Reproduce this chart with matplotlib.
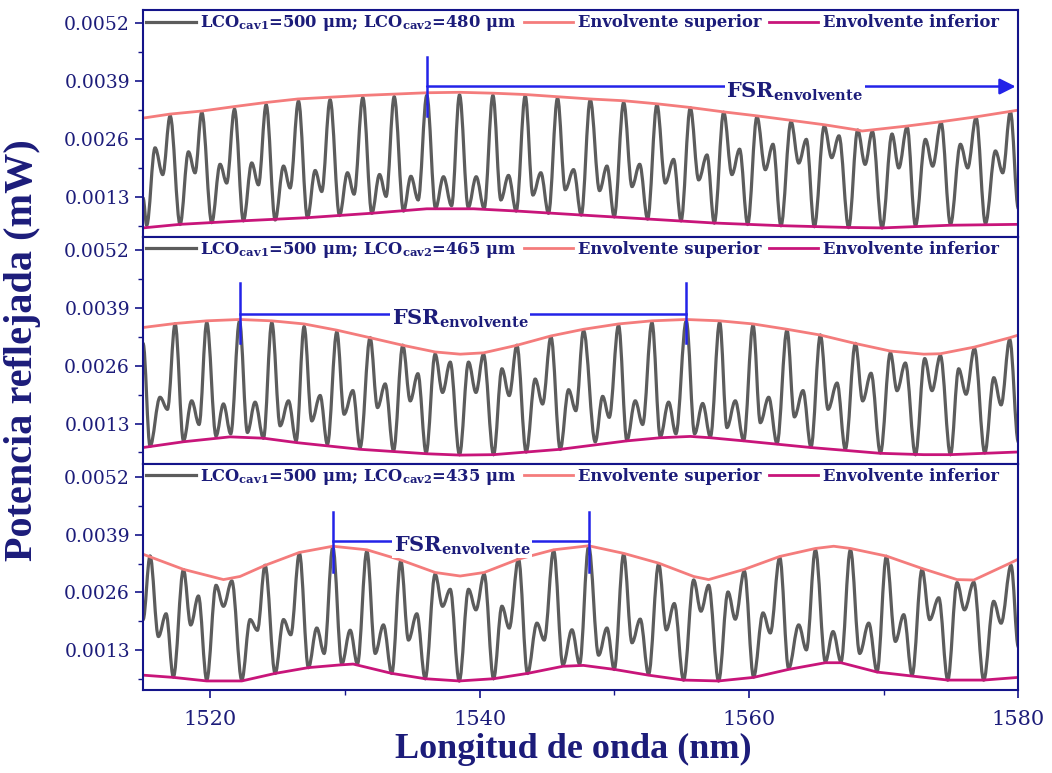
import matplotlib.pyplot as plt
from matplotlib.ticker import MultipleLocator
from matplotlib.path import Path
from matplotlib.patches import PathPatch

plt.rcParams["font.family"] = "DejaVu Serif"
plt.rcParams["mathtext.fontset"] = "dejavuserif"

# ---- Panel 1: LCO cav2 = 480 um (maximos / minimos) ----
wl_p1 = [1515.00, 1515.27, 1515.89, 1516.46, 1517.01, 1517.75, 1518.37, 1518.86,
         1519.36, 1520.10, 1520.72, 1521.21, 1521.79, 1522.45, 1523.07, 1523.57,
         1524.14, 1524.81, 1525.43, 1525.92, 1526.54, 1527.21, 1527.78, 1528.27,
         1528.89, 1529.59, 1530.18, 1530.67, 1531.32, 1531.99, 1532.56, 1533.05,
         1533.65, 1534.34, 1534.89, 1535.43, 1536.07, 1536.72, 1537.31, 1537.91,
         1538.50, 1539.15, 1539.74, 1540.33, 1540.98, 1541.57, 1542.14, 1542.71,
         1543.38, 1543.95, 1544.54, 1545.11, 1545.78, 1546.35, 1546.97, 1547.54,
         1548.21, 1548.90, 1549.45, 1549.99, 1550.69, 1551.31, 1551.88, 1552.47,
         1553.16, 1553.78, 1554.40, 1554.95, 1555.64, 1556.26, 1556.88, 1557.42,
         1558.12, 1558.73, 1559.30, 1559.90, 1560.59, 1561.21, 1561.78, 1562.37,
         1563.12, 1563.69, 1564.26, 1564.85, 1565.59, 1566.14, 1566.68, 1567.40,
         1568.07, 1568.62, 1569.16, 1569.88, 1570.62, 1571.12, 1571.74, 1572.36,
         1573.10, 1573.64, 1574.26, 1574.96, 1575.70, 1576.24, 1576.86, 1577.56,
         1578.30, 1578.84, 1579.41, 1580.00]
pot_p1 = [0.00127, 0.00066, 0.00240, 0.00180, 0.00312, 0.00068, 0.00231, 0.00184,
          0.00320, 0.00072, 0.00203, 0.00161, 0.00327, 0.00076, 0.00206, 0.00157,
          0.00337, 0.00078, 0.00199, 0.00150, 0.00345, 0.00083, 0.00189, 0.00142,
          0.00348, 0.00088, 0.00184, 0.00136, 0.00353, 0.00093, 0.00180, 0.00131,
          0.00355, 0.00098, 0.00176, 0.00123, 0.00358, 0.00104, 0.00175, 0.00110,
          0.00359, 0.00106, 0.00175, 0.00104, 0.00358, 0.00123, 0.00178, 0.00098,
          0.00357, 0.00134, 0.00184, 0.00093, 0.00352, 0.00146, 0.00191, 0.00089,
          0.00348, 0.00144, 0.00199, 0.00085, 0.00342, 0.00153, 0.00203, 0.00080,
          0.00337, 0.00161, 0.00214, 0.00076, 0.00330, 0.00168, 0.00224, 0.00071,
          0.00320, 0.00180, 0.00237, 0.00068, 0.00310, 0.00191, 0.00248, 0.00065,
          0.00299, 0.00206, 0.00259, 0.00063, 0.00289, 0.00218, 0.00267, 0.00061,
          0.00280, 0.00203, 0.00277, 0.00060, 0.00271, 0.00195, 0.00287, 0.00065,
          0.00259, 0.00199, 0.00297, 0.00068, 0.00248, 0.00195, 0.00308, 0.00070,
          0.00233, 0.00184, 0.00321, 0.00104]
sup_wl_p1 = [1515.0, 1517.0, 1519.4, 1521.8, 1524.1, 1526.5, 1528.9, 1531.3, 1533.7, 1536.1,
             1538.5, 1541.0, 1543.4, 1545.8, 1548.2, 1550.7, 1553.2, 1555.6, 1558.1, 1560.6,
             1563.1, 1565.6, 1568.1, 1568.4, 1571.7, 1574.3, 1576.9, 1579.4, 1580.0]
sup_p1 = [0.00307, 0.00316, 0.00323, 0.00333, 0.00342, 0.00350, 0.00354, 0.00358, 0.00361, 0.00364,
          0.00365, 0.00363, 0.00360, 0.00355, 0.00350, 0.00346, 0.00339, 0.00331, 0.00321, 0.00312,
          0.00302, 0.00292, 0.00280, 0.00278, 0.00289, 0.00299, 0.00310, 0.00322, 0.00325]
inf_wl_p1 = [1515.0, 1517.75, 1522.45, 1527.21, 1531.99, 1536.07, 1539.54, 1542.71,
             1547.54, 1552.47, 1557.42, 1562.37, 1567.40, 1569.88, 1574.96, 1580.0]
inf_p1 = [0.00060, 0.00068, 0.00076, 0.00083, 0.00093, 0.00103, 0.00103, 0.00098,
          0.00089, 0.00080, 0.00071, 0.00065, 0.00061, 0.00060, 0.00066, 0.00068]

# ---- Panel 2: LCO cav2 = 465 um ----
wl_p2 = [1515.00, 1515.52, 1516.26, 1516.81, 1517.38, 1518.00, 1518.61, 1519.16,
         1519.73, 1520.42, 1520.97, 1521.51, 1522.16, 1522.75, 1523.32, 1523.94,
         1524.56, 1525.18, 1525.80, 1526.37, 1526.96, 1527.53, 1528.15, 1528.69,
         1529.39, 1529.93, 1530.58, 1531.12, 1531.86, 1532.41, 1532.98, 1533.60,
         1534.29, 1534.84, 1535.41, 1536.02, 1536.69, 1537.24, 1537.81, 1538.50,
         1539.17, 1539.72, 1540.28, 1541.03, 1541.65, 1542.19, 1542.76, 1543.45,
         1544.12, 1544.67, 1545.29, 1545.98, 1546.60, 1547.14, 1547.71, 1548.58,
         1549.13, 1549.62, 1550.31, 1550.93, 1551.55, 1552.10, 1552.79, 1553.41,
         1554.03, 1554.57, 1555.34, 1555.96, 1556.56, 1557.13, 1557.82, 1558.36,
         1558.98, 1559.60, 1560.30, 1560.84, 1561.46, 1562.08, 1562.82, 1563.37,
         1564.01, 1564.60, 1565.30, 1565.87, 1566.54, 1567.15, 1567.90, 1568.44,
         1569.06, 1569.76, 1570.50, 1570.99, 1571.61, 1572.36, 1573.05, 1573.59,
         1574.21, 1574.96, 1575.57, 1576.12, 1576.74, 1577.51, 1578.18, 1578.72,
         1579.36, 1580.00]
pot_p2 = [0.00310, 0.00079, 0.00189, 0.00162, 0.00354, 0.00091, 0.00181, 0.00128,
          0.00357, 0.00102, 0.00174, 0.00107, 0.00360, 0.00110, 0.00178, 0.00097,
          0.00357, 0.00125, 0.00181, 0.00091, 0.00348, 0.00136, 0.00193, 0.00083,
          0.00336, 0.00151, 0.00204, 0.00076, 0.00323, 0.00166, 0.00219, 0.00069,
          0.00306, 0.00181, 0.00242, 0.00064, 0.00286, 0.00200, 0.00268, 0.00060,
          0.00268, 0.00200, 0.00286, 0.00060, 0.00253, 0.00193, 0.00306, 0.00066,
          0.00230, 0.00174, 0.00325, 0.00072, 0.00206, 0.00159, 0.00339, 0.00089,
          0.00191, 0.00144, 0.00351, 0.00092, 0.00181, 0.00128, 0.00357, 0.00100,
          0.00178, 0.00107, 0.00361, 0.00107, 0.00175, 0.00100, 0.00358, 0.00121,
          0.00181, 0.00092, 0.00351, 0.00132, 0.00189, 0.00085, 0.00340, 0.00145,
          0.00204, 0.00077, 0.00329, 0.00162, 0.00221, 0.00072, 0.00310, 0.00181,
          0.00243, 0.00064, 0.00289, 0.00204, 0.00266, 0.00060, 0.00276, 0.00204,
          0.00283, 0.00060, 0.00253, 0.00196, 0.00299, 0.00064, 0.00233, 0.00172,
          0.00319, 0.00089]
sup_wl_p2 = [1515.0, 1517.38, 1519.73, 1522.16, 1524.56, 1526.96, 1529.39, 1531.86, 1534.29, 1536.69,
             1538.55, 1540.28, 1542.76, 1545.29, 1547.71, 1550.31, 1552.79, 1555.34, 1557.82, 1560.30,
             1562.82, 1565.30, 1567.90, 1570.50, 1572.97, 1574.21, 1576.74, 1579.36, 1580.0]
sup_p2 = [0.00346, 0.00355, 0.00361, 0.00364, 0.00361, 0.00354, 0.00340, 0.00323, 0.00306, 0.00291,
          0.00286, 0.00289, 0.00306, 0.00327, 0.00342, 0.00354, 0.00361, 0.00364, 0.00361, 0.00354,
          0.00342, 0.00329, 0.00310, 0.00293, 0.00286, 0.00287, 0.00302, 0.00323, 0.00329]
inf_wl_p2 = [1515.0, 1518.0, 1521.46, 1523.94, 1526.42, 1531.12, 1536.07, 1538.55, 1541.03, 1545.98,
             1550.93, 1553.41, 1555.64, 1557.13, 1559.60, 1564.60, 1569.76, 1572.97, 1574.96, 1580.0]
inf_p2 = [0.00076, 0.00089, 0.00100, 0.00097, 0.00087, 0.00072, 0.00062, 0.00059, 0.00060, 0.00072,
          0.00091, 0.00098, 0.00101, 0.00098, 0.00091, 0.00076, 0.00063, 0.00060, 0.00060, 0.00066]

# ---- Panel 3: LCO cav2 = 435 um ----
wl_p3 = [1515.00, 1515.52, 1516.14, 1516.71, 1517.25, 1518.00, 1518.54, 1519.11,
         1519.73, 1520.42, 1520.97, 1521.59, 1522.33, 1522.95, 1523.49, 1524.06,
         1524.81, 1525.43, 1525.97, 1526.61, 1527.28, 1527.90, 1528.45, 1529.09,
         1529.76, 1530.38, 1530.92, 1531.62, 1532.24, 1532.85, 1533.47, 1534.14,
         1534.71, 1535.33, 1535.95, 1536.69, 1537.24, 1537.81, 1538.48, 1539.17,
         1539.72, 1540.33, 1541.03, 1541.65, 1542.19, 1542.88, 1543.55, 1544.25,
         1544.79, 1545.49, 1546.18, 1546.85, 1547.42, 1548.09, 1548.83, 1549.45,
         1549.99, 1550.69, 1551.31, 1551.92, 1552.54, 1553.29, 1553.86, 1554.45,
         1555.14, 1555.89, 1556.43, 1557.00, 1557.74, 1558.44, 1558.98, 1559.65,
         1560.34, 1561.04, 1561.58, 1562.28, 1562.94, 1563.69, 1564.26, 1564.93,
         1565.67, 1566.24, 1566.83, 1567.53, 1568.22, 1568.89, 1569.51, 1570.20,
         1570.87, 1571.49, 1572.11, 1572.85, 1573.42, 1574.09, 1574.76, 1575.45,
         1576.00, 1576.69, 1577.43, 1578.17, 1578.72, 1579.46, 1580.00]
pot_p3 = [0.00199, 0.00342, 0.00161, 0.00212, 0.00070, 0.00311, 0.00187, 0.00252,
          0.00063, 0.00276, 0.00229, 0.00286, 0.00063, 0.00199, 0.00175, 0.00321,
          0.00078, 0.00199, 0.00165, 0.00348, 0.00091, 0.00180, 0.00123, 0.00362,
          0.00099, 0.00175, 0.00099, 0.00353, 0.00123, 0.00187, 0.00078, 0.00331,
          0.00153, 0.00212, 0.00066, 0.00301, 0.00229, 0.00267, 0.00061, 0.00267,
          0.00221, 0.00301, 0.00066, 0.00229, 0.00180, 0.00335, 0.00078, 0.00191,
          0.00153, 0.00354, 0.00097, 0.00176, 0.00099, 0.00364, 0.00119, 0.00180,
          0.00087, 0.00346, 0.00147, 0.00200, 0.00076, 0.00324, 0.00176, 0.00235,
          0.00063, 0.00288, 0.00218, 0.00276, 0.00061, 0.00261, 0.00200, 0.00308,
          0.00070, 0.00214, 0.00169, 0.00339, 0.00089, 0.00187, 0.00131, 0.00356,
          0.00104, 0.00172, 0.00104, 0.00356, 0.00123, 0.00191, 0.00082, 0.00341,
          0.00150, 0.00210, 0.00074, 0.00312, 0.00199, 0.00248, 0.00063, 0.00282,
          0.00221, 0.00283, 0.00063, 0.00240, 0.00191, 0.00321, 0.00138]
sup_wl_p3 = [1515.0, 1518.0, 1520.97, 1522.2, 1524.06, 1526.6, 1529.09, 1531.62, 1534.14, 1536.69,
             1538.55, 1540.33, 1542.88, 1545.49, 1548.09, 1550.69, 1553.29, 1555.89, 1557.0, 1559.65,
             1562.28, 1564.93, 1566.29, 1567.53, 1570.2, 1572.85, 1575.45, 1576.69, 1579.46, 1580.0]
sup_p3 = [0.00346, 0.00312, 0.00289, 0.00296, 0.00321, 0.00350, 0.00364, 0.00356, 0.00333, 0.00305,
          0.00297, 0.00305, 0.00335, 0.00356, 0.00365, 0.00348, 0.00326, 0.00296, 0.00289, 0.00312,
          0.00341, 0.00359, 0.00364, 0.00359, 0.00342, 0.00314, 0.00289, 0.00288, 0.00327, 0.00335]
inf_wl_p3 = [1515.0, 1517.25, 1519.73, 1522.33, 1524.81, 1527.28, 1529.6, 1530.6, 1533.47, 1535.95,
             1538.48, 1541.03, 1543.55, 1546.18, 1547.7, 1549.99, 1552.54, 1555.14, 1557.74, 1560.34,
             1562.94, 1565.67, 1566.83, 1569.51, 1572.11, 1574.76, 1577.43, 1580.0]
inf_p3 = [0.00074, 0.00069, 0.00061, 0.00061, 0.00078, 0.00091, 0.00097, 0.00099, 0.00078, 0.00066,
          0.00061, 0.00066, 0.00078, 0.00094, 0.00096, 0.00087, 0.00074, 0.00063, 0.00061, 0.00069,
          0.00087, 0.00102, 0.00102, 0.00081, 0.00072, 0.00063, 0.00063, 0.00069]

lco_cav2 = ["480", "465", "435"]
# FSR de la envolvente (maximos marcados)
fsr_p1 = [1536.1, 1579.8]
fsr_p2 = [1522.2, 1555.3]
fsr_p3 = [1529.1, 1548.1]

ytick_vals = [0.0013, 0.0026, 0.0039, 0.0052]
ytick_labels = ["0.0013", "0.0026", "0.0039", "0.0052"]
xtick_vals = [1520, 1540, 1560, 1580]

navy = "#1c1c7a"
frame = "#14148a"
blue = "#2323e8"
gray = "#5c5c5c"
coral = "#f47c7c"
magenta = "#c8157a"


def smooth_line(ax, x, y, **kw):
    # curva suave entre maximos/minimos (tangente horizontal en cada extremo)
    verts = [(x[0], y[0])]
    codes = [Path.MOVETO]
    for j in range(1, len(x)):
        dx = x[j] - x[j - 1]
        verts += [(x[j - 1] + 0.36 * dx, y[j - 1]), (x[j] - 0.36 * dx, y[j]), (x[j], y[j])]
        codes += [Path.CURVE4] * 3
    ax.add_patch(PathPatch(Path(verts, codes), facecolor="none", **kw))


fig, axes = plt.subplots(3, 1, figsize=(10.52, 7.73), dpi=100, sharex=True)
fig.subplots_adjust(left=0.136, right=0.968, top=0.987, bottom=0.107, hspace=0)

panels = [
    (wl_p1, pot_p1, sup_wl_p1, sup_p1, inf_wl_p1, inf_p1),
    (wl_p2, pot_p2, sup_wl_p2, sup_p2, inf_wl_p2, inf_p2),
    (wl_p3, pot_p3, sup_wl_p3, sup_p3, inf_wl_p3, inf_p3),
]

for i, ax in enumerate(axes):
    wl, pot, swl, sup, iwl, inf = panels[i]

    smooth_line(ax, wl, pot, edgecolor=gray, lw=2.3)
    ax.plot([], [], color=gray, lw=2.3,
            label=r"LCO$_{\mathbf{cav1}}$=500 μm; LCO$_{\mathbf{cav2}}$=" + lco_cav2[i] + " μm")
    ax.plot(swl, sup, color=coral, lw=2.0, label="Envolvente superior")
    ax.plot(iwl, inf, color=magenta, lw=2.0, label="Envolvente inferior")

    ax.set_xlim(1515, 1580)
    ax.set_ylim(0.0004, 0.0055)
    ax.set_yticks(ytick_vals)
    ax.set_yticklabels(ytick_labels)
    ax.yaxis.set_minor_locator(MultipleLocator(0.00065))
    ax.set_xticks(xtick_vals)
    ax.xaxis.set_minor_locator(MultipleLocator(10))

    for sp in ax.spines.values():
        sp.set_color(frame)
        sp.set_linewidth(1.5)

    ax.tick_params(axis="y", which="major", direction="out", length=6, width=1.2,
                   color=frame, labelcolor=navy, labelsize=13.5)
    ax.tick_params(axis="x", which="major", direction="out", length=6, width=1.2,
                   color=frame, labelcolor=navy, labelsize=15, pad=8)
    ax.tick_params(axis="both", which="minor", direction="out", length=3.5, width=1.0,
                   color=frame)
    if i < 2:
        ax.tick_params(axis="x", which="both", length=0, labelbottom=False)

    ax.legend(loc="upper left", bbox_to_anchor=(0.0, 1.0), ncol=3, frameon=False,
              prop={"weight": "bold", "size": 11.8}, handlelength=3.0,
              handletextpad=0.3, columnspacing=0.45, borderaxespad=0.1,
              borderpad=0.1, labelcolor=navy)

# Marcas del FSR de la envolvente
fsr_text = r"$\mathbf{FSR}_{\mathbf{envolvente}}$"

ax = axes[0]
ax.plot([fsr_p1[0], fsr_p1[0]], [0.00312, 0.00444], color=blue, lw=1.8)
ax.annotate("", xy=(fsr_p1[1], 0.00378), xytext=(fsr_p1[0], 0.00378),
            arrowprops=dict(arrowstyle="-|>", color=blue, lw=1.8, mutation_scale=24,
                            shrinkA=0, shrinkB=0))
ax.text(1563.4, 0.00367, fsr_text, color=navy, fontsize=15, ha="center", va="center",
        bbox=dict(facecolor="white", edgecolor="none", pad=1))

for ax, fsr, yb, yt, yh, xt in [(axes[1], fsr_p2, 0.00310, 0.00446, 0.00376, 1538.55),
                                (axes[2], fsr_p3, 0.00305, 0.00441, 0.00376, 1538.7)]:
    for x in fsr:
        ax.plot([x, x], [yb, yt], color=blue, lw=1.8)
    ax.plot(fsr, [yh, yh], color=blue, lw=1.8)
    ax.text(xt, yh - 0.00011, fsr_text, color=navy, fontsize=15, ha="center", va="center",
            bbox=dict(facecolor="white", edgecolor="none", pad=1))

fig.text(0.021, 0.547, "Potencia reflejada (mW)", rotation=90, ha="center", va="center",
         fontsize=29, fontweight="bold", color=navy, family="Liberation Serif")
fig.text(0.545, 0.03, "Longitud de onda (nm)", ha="center", va="center",
         fontsize=26, fontweight="bold", color=navy, family="Liberation Serif")

plt.savefig("out.png", dpi=100)
